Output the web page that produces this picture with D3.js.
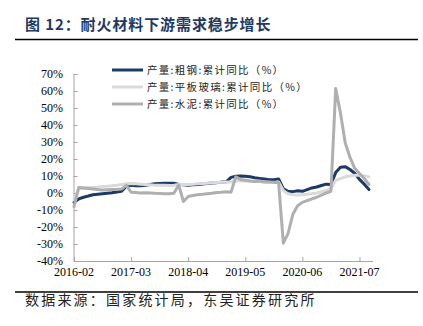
<!DOCTYPE html>
<html>
<head>
<meta charset="utf-8">
<script src="https://cdn.jsdelivr.net/npm/d3@7/dist/d3.min.js"></script>
<style>
  html, body { margin: 0; padding: 0; background: #fff; }
  svg { display: block; }
</style>
</head>
<body>
<svg id="chart" width="423" height="326"></svg>
<script>
// Monthly cumulative YoY (%), Jan folded into Feb
const categories = [
  "2016-02","2016-03","2016-04","2016-05","2016-06","2016-07","2016-08","2016-09","2016-10","2016-11","2016-12",
  "2017-02","2017-03","2017-04","2017-05","2017-06","2017-07","2017-08","2017-09","2017-10","2017-11","2017-12",
  "2018-02","2018-03","2018-04","2018-05","2018-06","2018-07","2018-08","2018-09","2018-10","2018-11","2018-12",
  "2019-02","2019-03","2019-04","2019-05","2019-06","2019-07","2019-08","2019-09","2019-10","2019-11","2019-12",
  "2020-02","2020-03","2020-04","2020-05","2020-06","2020-07","2020-08","2020-09","2020-10","2020-11","2020-12",
  "2021-02","2021-03","2021-04","2021-05","2021-06","2021-07","2021-08","2021-09"
];

const steel = [
  -5.5, -3.5, -2.5, -1.8, -1.0, -0.7, -0.4, -0.1, 0.2, 0.6, 1.0,
  4.0, 4.5, 4.3, 4.2, 4.5, 5.0, 5.5, 5.6, 5.7, 5.7, 5.7,
  5.0, 4.8, 4.6, 4.8, 5.0, 5.3, 5.6, 5.9, 6.1, 6.4, 6.6,
  9.2, 9.8, 10.0, 9.8, 9.5, 9.0, 8.6, 8.2, 7.8, 7.8, 8.3,
  2.5, 1.0, 0.8, 1.3, 1.0, 2.0, 3.0, 3.5, 4.4, 5.2, 5.0,
  12.0, 15.2, 15.5, 13.8, 11.6, 8.0, 5.2, 2.0
];

const glass = [
  -4.0, 2.5, 3.0, 3.2, 3.3, 3.5, 3.8, 4.0, 4.3, 4.6, 5.0,
  5.5, 5.6, 5.4, 5.2, 5.0, 4.8, 4.6, 4.6, 4.5, 4.4, 4.5,
  5.0, 5.2, 5.0, 5.2, 5.5, 5.6, 5.8, 6.0, 6.2, 6.3, 6.4,
  6.5, 7.0, 7.2, 7.0, 7.0, 6.8, 6.8, 6.5, 6.3, 6.2, 6.5,
  1.5, -0.5, -1.0, -1.2, -1.0, -0.8, -0.5, 0.0, 0.8, 1.5, 2.5,
  7.5, 8.5, 9.5, 10.0, 10.5, 10.5, 10.2, 9.5
];

const cement = [
  -8.0, 3.3, 3.0, 2.6, 2.3, 2.0, 1.8, 1.9, 2.0, 2.1, 2.3,
  4.5, 0.5, 0.3, 0.0, 0.2, 0.0, -0.2, -0.3, -0.5, -0.4, -0.2,
  4.7, -5.0, -2.0, -1.5, -1.0, -0.8, -0.5, -0.2, 0.3, 0.5, 0.8,
  0.5, 9.5, 8.0, 7.5, 7.0, 6.8, 7.0, 6.5, 6.4, 6.3, 6.1,
  -29.5, -23.8, -12.5, -7.5, -5.5, -4.5, -3.5, -2.5, -1.2, 0.0, 1.0,
  61.5, 47.0, 29.5, 21.0, 14.5, 11.5, 8.5, 5.0
];

const seriesNames = ["产量:粗钢:累计同比（%）", "产量:平板玻璃:累计同比（%）", "产量:水泥:累计同比（%）"];
const seriesColors = ["#1B3A66", "#DADADA", "#AFAFAF"];
const yTicks = [70, 60, 50, 40, 30, 20, 10, 0, -10, -20, -30, -40];
const xTickLabels = ["2016-02", "2017-03", "2018-04", "2019-05", "2020-06", "2021-07"];

const svg = d3.select("#chart");

// Title and rules
svg.append("text")
  .attr("x", 25).attr("y", 30)
  .attr("font-family", "'Noto Sans CJK SC', sans-serif")
  .attr("font-weight", 700)
  .attr("font-size", 15)
  .attr("letter-spacing", 0.9)
  .attr("fill", "#1F3A5F")
  .text("图 12：耐火材料下游需求稳步增长");

svg.append("line").attr("x1", 15).attr("x2", 418).attr("y1", 39.5).attr("y2", 39.5)
  .attr("stroke", "#000").attr("stroke-width", 1.5);
svg.append("line").attr("x1", 15).attr("x2", 418).attr("y1", 292).attr("y2", 292)
  .attr("stroke", "#000").attr("stroke-width", 1.5);

svg.append("text")
  .attr("x", 25).attr("y", 305)
  .attr("font-family", "'Noto Sans CJK SC', sans-serif")
  .attr("font-size", 14)
  .attr("letter-spacing", 2.2)
  .attr("fill", "#222")
  .text("数据来源：国家统计局，东吴证券研究所");

// Scales
const x = d3.scaleLinear().domain([0, categories.length - 1]).range([74, 369]);
const y = d3.scaleLinear().domain([-40, 70]).range([261, 74]);

const serif = "'Liberation Serif', 'Times New Roman', Times, serif";

// Y axis (ticks pointing inward)
const yAxis = svg.append("g").attr("transform", "translate(73.5,0)")
  .call(d3.axisRight(y).tickValues(yTicks).tickSize(4).tickFormat(""));
yAxis.select(".domain").attr("stroke", "#A6A6A6").attr("d", `M0.5,${y(70)}V${y(-40)}`);
yAxis.selectAll(".tick line").attr("stroke", "#A6A6A6");

svg.append("g").selectAll("text").data(yTicks).join("text")
  .attr("x", 63).attr("y", d => y(d))
  .attr("dy", "0.35em")
  .attr("text-anchor", "end")
  .attr("font-family", serif)
  .attr("font-size", 12)
  .attr("fill", "#000")
  .text(d => d + "%");

// X axis (ticks pointing inward)
const xTickIdx = xTickLabels.map(l => categories.indexOf(l));
const xAxis = svg.append("g").attr("transform", `translate(0,${y(-40)})`)
  .call(d3.axisTop(x).tickValues(xTickIdx).tickSize(4).tickFormat(""));
xAxis.select(".domain").attr("stroke", "#A6A6A6").attr("d", `M${x(0)},0.5H${x(categories.length - 1) + 4}`);
xAxis.selectAll(".tick line").attr("stroke", "#A6A6A6");

svg.append("g").selectAll("text").data(xTickIdx).join("text")
  .attr("x", d => x(d)).attr("y", y(-40) + 15)
  .attr("text-anchor", "middle")
  .attr("font-family", serif)
  .attr("font-size", 12)
  .attr("fill", "#000")
  .text(d => categories[d]);

// Lines
const line = d3.line().x((d, i) => x(i)).y(d => y(d));
[steel, glass, cement].forEach((s, k) => {
  svg.append("path")
    .datum(s)
    .attr("d", line)
    .attr("fill", "none")
    .attr("stroke", seriesColors[k])
    .attr("stroke-width", 3)
    .attr("stroke-linejoin", "round")
    .attr("stroke-linecap", "round");
});

// Legend
const legend = svg.append("g");
seriesNames.forEach((name, k) => {
  const ly = 70 + k * 17;
  legend.append("line")
    .attr("x1", 112).attr("x2", 143).attr("y1", ly).attr("y2", ly)
    .attr("stroke", seriesColors[k]).attr("stroke-width", 3);
  legend.append("text")
    .attr("x", 147).attr("y", ly).attr("dy", "0.35em")
    .attr("font-family", "'Noto Sans CJK SC', sans-serif")
    .attr("font-size", 10.5)
    .attr("letter-spacing", 1.3)
    .attr("fill", "#222")
    .text(name);
});
</script>
</body>
</html>
